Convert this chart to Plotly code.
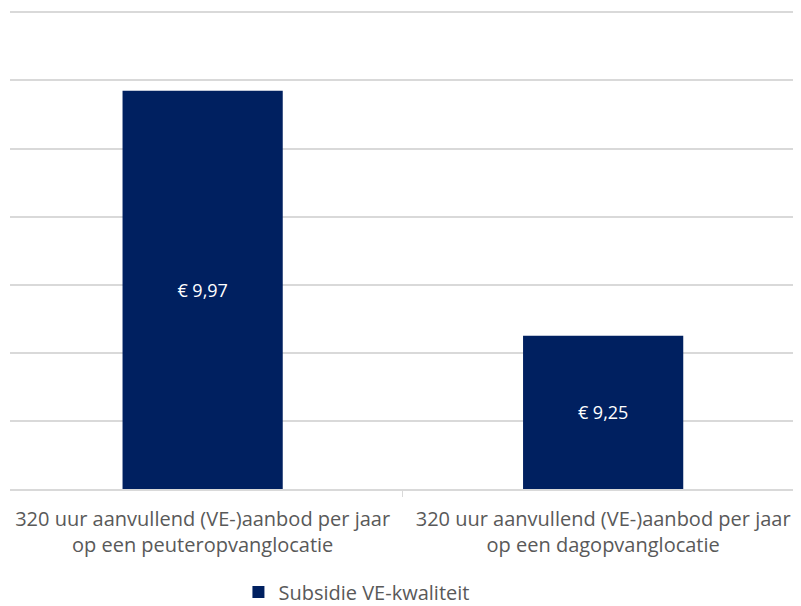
import plotly.graph_objects as go

categories = [
    "320 uur aanvullend (VE-)aanbod per jaar<br>op een peuteropvanglocatie",
    "320 uur aanvullend (VE-)aanbod per jaar<br>op een dagopvanglocatie",
]
values = [9.97, 9.25]
labels = ["€ 9,97", "€ 9,25"]
series_name = "Subsidie VE-kwaliteit"
axis_min, axis_max, axis_step = 8.8, 10.2, 0.2

fig = go.Figure()
fig.add_trace(go.Bar(
    x=categories, y=[v - axis_min for v in values], base=axis_min,
    name=series_name,
    marker=dict(color="#002060", line=dict(width=0)),
    text=labels, textposition="inside", insidetextanchor="middle",
    textfont=dict(color="white", size=18, family="Open Sans"),
    width=0.4, showlegend=True, hoverinfo="skip",
))
fig.update_layout(
    width=801, height=606,
    margin=dict(l=2, r=8, t=1, b=125, autoexpand=False),
    paper_bgcolor="white", plot_bgcolor="white",
    font=dict(family="Open Sans", color="#595959"),
    yaxis=dict(range=[axis_min, axis_max + 0.01], dtick=axis_step, tick0=axis_min,
               showticklabels=False, automargin=False,
               gridcolor="#d9d9d9", gridwidth=1.5, zeroline=False, showline=False),
    xaxis=dict(range=[-0.481, 1.494], showline=True, linecolor="#d9d9d9", linewidth=1.5,
               automargin=False, ticklabelstandoff=11,
               tickson="boundaries", ticks="outside", ticklen=6, tickcolor="#d9d9d9",
               tickfont=dict(size=20, color="#595959", family="Open Sans")),
    legend=dict(orientation="h", xref="container", yref="container",
                x=0.435, xanchor="center", y=1 - 584 / 606, yanchor="middle",
                font=dict(size=20, color="#595959")),
)
fig.write_html("out.html")
